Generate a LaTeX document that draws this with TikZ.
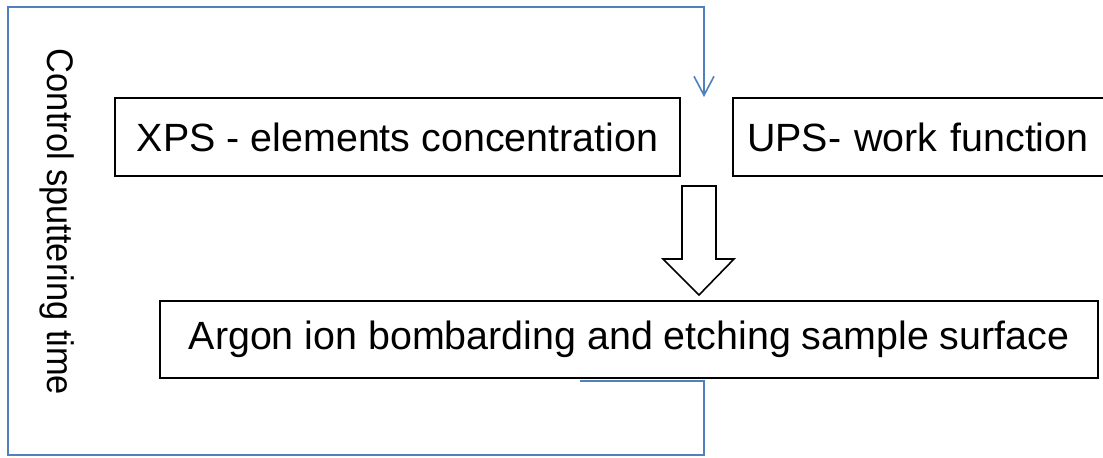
\documentclass[tikz,border=0pt]{standalone}
\usepackage{fontspec}
\setmainfont{Liberation Sans}
\usetikzlibrary{arrows.meta}
\definecolor{loopblue}{HTML}{4F81BD}
\tikzset{
  box/.style={draw=black, line width=0.9pt, inner sep=0pt, minimum height=39pt,
              font=\fontsize{19.7}{24}\selectfont},
  loopline/.style={draw=loopblue, line width=0.8pt},
  bigarrow/.style={draw=black, line width=0.8pt, fill=white}
}
\begin{document}
\begin{tikzpicture}[x=0.5pt, y=-0.5pt]
\useasboundingbox (0,0) rectangle (1103,458);
\begin{scope}
\clip (0,0) rectangle (1103,458);
% boxes
\node[box, minimum width=282.5pt] (xps) at (397.5,137) {XPS - elements concentration};
\node[box, minimum width=186.5pt, text width=172.5pt] (ups) at (919.5,137) {UPS- work function};
\node[box, minimum width=469pt, minimum height=38.5pt] (argon) at (629,339.5) {Argon ion bombarding and etching sample surface};
% vertical label
\node[rotate=-90, inner sep=0pt, font=\fontsize{18.5}{22}\selectfont] (ctrl) at (57,222)
  {\scalebox{0.93}[1]{Control sputtering time}};
% hollow arrow
\draw[bigarrow] (682,186) -- (716,186) -- (716,259) -- (734,259) -- (699,295)
  -- (663,259) -- (682,259) -- cycle;
% feedback loop
\coordinate (loopstart) at (580,381);
\coordinate (looptip) at (704,97);
\draw[loopline, -{Straight Barb[length=9.5pt, width=10pt, line width=0.8pt]}]
  (loopstart) -- (704,381) -- (704,455) -- (8,455) -- (8,7) -- (704,7) -- (looptip);
\end{scope}
\end{tikzpicture}
\end{document}
